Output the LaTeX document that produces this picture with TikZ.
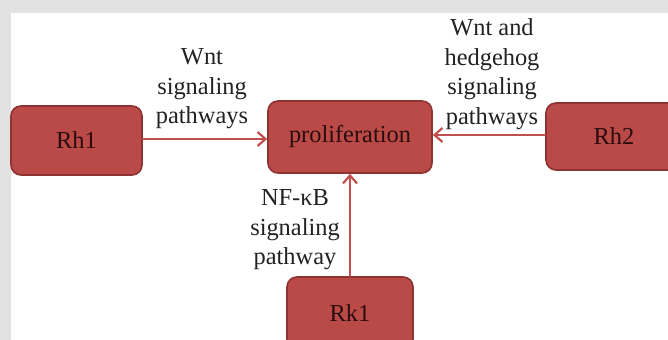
\documentclass[tikz,border=0pt]{standalone}
\usepackage{fontspec}
\setmainfont{Liberation Serif}
\usepackage{tikz}
\usetikzlibrary{arrows.meta}
\definecolor{panelgray}{HTML}{E2E2E2}
\definecolor{boxred}{HTML}{B94A48}
\definecolor{boxedge}{HTML}{8E3232}
\definecolor{arrowred}{HTML}{C0504D}
\definecolor{boxtext}{HTML}{2A0C0C}
\definecolor{labeltext}{HTML}{222222}
\tikzset{
  every picture/.style={line join=round, line cap=round},
  box/.style={draw=boxedge, line width=0.8pt, fill=boxred, rounded corners=5pt,
    text=boxtext, font=\fontsize{12.2}{14.8}\selectfont, inner sep=0pt},
  flow/.style={draw=arrowred, line width=1.1pt, -{Straight Barb[length=4pt,width=7pt]}},
  lbl/.style={align=center, text=labeltext, inner sep=0pt,
    font=\fontsize{12.2}{14.8}\selectfont},
}

\begin{document}
\begin{tikzpicture}[x=0.5pt,y=-0.5pt]
\useasboundingbox (0,0) rectangle (668,340);
\fill[panelgray] (0,0) rectangle (668,340);
\fill[white] (11,13) rectangle (668,340);
\clip (0,0) rectangle (668,340);
% boxes
\node[box,minimum width=65.5pt,minimum height=34.5pt] (rh1) at (76.5,140.5) {Rh1};
\node[box,minimum width=82pt,minimum height=36pt] (prolif) at (350,137) {proliferation};
\node[box,minimum width=68pt,minimum height=33.5pt] (rh2) at (614,136.5) {Rh2};
\node[box,minimum width=63pt,minimum height=36pt] (rk1) at (350,313) {Rk1};
% pathways
\node[lbl] (wnt) at (202,89) {Wnt\\signaling\\pathways};
\node[lbl] (wnthh) at (492,74) {Wnt and\\hedgehog\\signaling\\pathways};
\node[lbl] (nfkb) at (295,230) {NF-κB\\signaling\\pathway};
% arrows
\draw[flow] ([yshift=0.75pt]rh1.east) -- ([yshift=0.75pt]rh1.east -| prolif.west);
\draw[flow] ([yshift=0.75pt]rh2.west) -- ([yshift=0.75pt]rh2.west -| prolif.east);
\draw[flow] (rk1.north) -- (prolif.south);
\end{tikzpicture}
\end{document}
